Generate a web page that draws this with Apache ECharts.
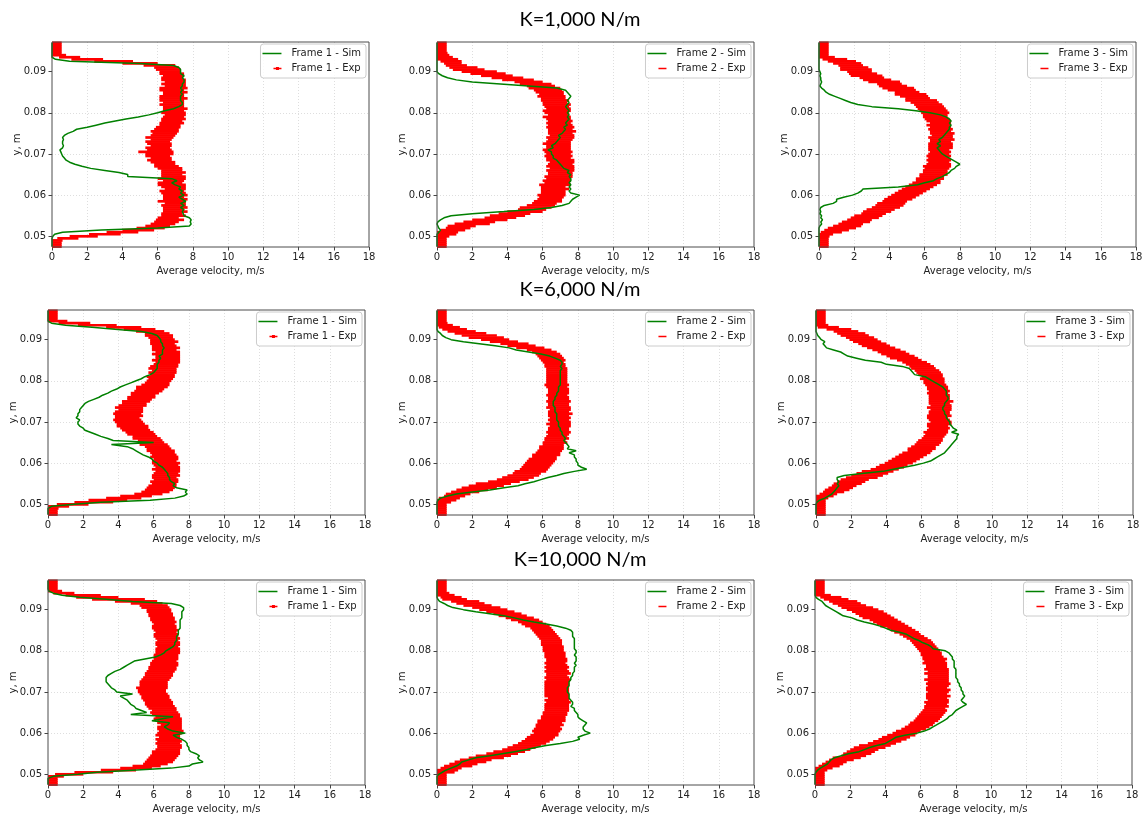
<!DOCTYPE html>
<html><head><meta charset="utf-8">
<script src="https://cdn.jsdelivr.net/npm/echarts@6/dist/echarts.min.js"></script>
<style>html,body{margin:0;padding:0;background:#fff}#chart{width:1146px;height:817px}</style>
</head><body><div id="chart"></div>
<script>
// ---------- data ----------
const panelTitles = ['K=1,000 N/m', 'K=6,000 N/m', 'K=10,000 N/m'];
const xTicks = [0, 2, 4, 6, 8, 10, 12, 14, 16, 18];
const yTicks = [0.05, 0.06, 0.07, 0.08, 0.09];
const yPos = [
0.0475,0.048,0.0485,0.049,0.0495,0.05,0.0505,0.051,0.0515,0.052,
0.0525,0.053,0.0535,0.054,0.0545,0.055,0.0555,0.056,0.0565,0.057,
0.0575,0.058,0.0585,0.059,0.0595,0.06,0.0605,0.061,0.0615,0.062,
0.0625,0.063,0.0635,0.064,0.0645,0.065,0.0655,0.066,0.0665,0.067,
0.0675,0.068,0.0685,0.069,0.0695,0.07,0.0705,0.071,0.0715,0.072,
0.0725,0.073,0.0735,0.074,0.0745,0.075,0.0755,0.076,0.0765,0.077,
0.0775,0.078,0.0785,0.079,0.0795,0.08,0.0805,0.081,0.0815,0.082,
0.0825,0.083,0.0835,0.084,0.0845,0.085,0.0855,0.086,0.0865,0.087,
0.0875,0.088,0.0885,0.089,0.0895,0.09,0.0905,0.091,0.0915,0.092,
0.0925,0.093,0.0935,0.094,0.0945,0.095,0.0955,0.096,0.0965,0.097];

// K=1,000 N/m
const simK1F1 = [
0,0,0,0,0,0.05,0.15,0.6,2.8,6.0,
7.8,7.9,7.85,7.9,7.8,7.5,7.45,7.4,7.5,7.3,
7.5,7.3,7.6,7.4,7.2,7.5,7.3,7.4,7.2,7.3,
7.0,6.8,7.1,6.8,4.3,4.3,3.8,3.0,2.2,1.7,
1.3,1.0,0.8,0.7,0.6,0.55,0.5,0.45,0.6,0.65,
0.6,0.6,0.65,0.6,0.7,0.9,1.2,1.4,2.0,2.5,
3.0,3.6,4.2,4.9,5.5,6.0,6.4,6.9,7.2,7.4,
7.4,7.3,7.3,7.3,7.4,7.3,7.4,7.3,7.4,7.4,
7.5,7.5,7.4,7.5,7.3,7.3,7.3,7.2,6.9,5.0,
1.0,0.2,0,0,0,0,0,0,0,0];
const expK1F1 = [
0.05,0.05,0.05,0.1,0.9,1.8,3.0,4.0,4.9,5.6,
6.0,6.3,6.5,6.7,6.6,6.9,6.8,7.0,6.9,7.0,
6.9,7.0,6.8,7.0,6.9,7.0,6.9,6.8,7.0,6.9,
6.8,6.7,6.9,6.8,6.9,6.8,6.9,6.8,6.7,6.5,
6.4,6.3,6.1,6.2,6.0,6.1,5.9,6.1,6.0,6.2,
6.1,6.0,6.2,6.1,6.3,6.4,6.4,6.5,6.6,6.7,
6.8,6.8,6.9,6.9,7.0,6.9,6.9,7.0,6.9,6.8,
6.9,6.8,6.9,6.8,6.9,7.0,6.8,6.9,7.0,6.9,
7.0,6.9,6.8,6.9,6.8,6.7,6.6,6.5,6.1,5.0,
3.5,2.0,1.0,0.4,0.05,0.05,0.05,0.05,0.05,0.05];
const errK1F1 = [
0.5,0.5,0.5,0.5,0.6,0.8,0.9,0.9,0.9,0.8,
0.7,0.7,0.7,0.8,0.6,0.7,0.6,0.7,0.6,0.7,
0.7,0.6,0.8,0.7,0.6,0.7,0.7,0.7,0.6,0.7,
0.8,0.7,0.6,0.8,0.7,0.6,0.7,0.6,0.7,0.7,
0.6,0.7,0.7,0.6,0.7,0.8,1.0,0.7,0.7,0.6,
0.7,0.7,0.6,0.8,0.7,0.7,0.8,0.7,0.7,0.6,
0.7,0.6,0.7,0.6,0.6,0.7,0.6,0.7,0.6,0.7,
0.6,0.7,0.8,0.7,0.6,0.7,0.7,0.8,0.6,0.7,
0.6,0.7,0.6,0.6,0.7,0.6,0.7,0.7,0.9,1.0,
1.1,0.9,0.6,0.4,0.5,0.5,0.5,0.5,0.5,0.5];

const simK1F2 = [
0,0,0,0,0,0,0,0.1,0.2,0.1,
0.05,0,0.05,0.2,0.4,0.8,2.0,3.8,5.5,6.5,
7.1,7.5,7.6,7.7,7.9,8.1,7.6,7.5,7.6,7.5,
7.6,7.5,7.6,7.6,7.5,7.6,7.4,7.5,7.2,7.1,
7.0,6.9,6.8,6.6,6.6,6.5,6.5,6.3,6.6,6.5,
6.7,6.8,6.9,7.0,6.9,7.1,7.2,7.3,7.2,7.4,
7.3,7.4,7.5,7.4,7.5,7.4,7.5,7.4,7.3,7.4,
7.5,7.4,7.5,7.6,7.5,7.4,7.3,6.8,5.2,3.6,
2.0,1.1,0.6,0.3,0.1,0,0,0,0,0,
0,0,0,0,0,0,0,0,0,0];
const expK1F2 = [
0.05,0.05,0.05,0.05,0.05,0.2,0.5,0.6,0.9,1.2,
1.4,2.0,2.4,3.0,3.6,4.0,4.4,5.0,5.4,5.6,
5.9,6.1,6.3,6.4,6.5,6.5,6.6,6.6,6.7,6.6,
6.7,6.8,6.8,6.9,6.9,7.0,7.0,7.0,7.1,7.0,
7.0,7.1,7.0,6.9,6.9,6.9,6.9,6.8,6.9,6.9,
6.8,6.9,7.0,7.0,7.1,7.0,7.1,7.0,7.0,7.0,
6.9,7.0,6.9,6.8,6.9,6.8,6.8,6.9,6.8,6.8,
6.7,6.7,6.6,6.5,6.5,6.4,6.3,6.1,5.9,5.6,
5.2,4.6,4.0,3.4,2.9,2.4,1.8,1.5,1.1,0.9,
0.8,0.6,0.4,0.3,0.2,0.1,0.05,0.05,0.05,0.05];
const errK1F2 = [
0.5,0.5,0.5,0.5,0.5,0.5,0.6,0.6,0.7,0.7,
0.8,1.0,0.9,1.0,0.9,1.0,0.9,1.0,0.8,0.9,
0.8,0.7,0.8,0.7,0.7,0.8,0.7,0.7,0.8,0.7,
0.9,0.7,0.8,0.7,0.8,0.7,0.7,0.8,0.7,0.8,
0.7,0.7,0.8,0.7,0.8,0.7,0.8,0.8,0.7,0.7,
0.8,0.7,0.7,0.8,0.7,0.7,0.8,0.7,0.8,0.7,
0.7,0.7,0.7,0.8,0.6,0.7,0.8,0.7,0.7,0.8,
0.7,0.8,0.7,0.8,0.7,0.8,0.8,0.9,0.8,0.9,
0.8,0.9,0.9,0.9,1.0,1.0,0.9,0.8,0.6,0.5,
0.6,0.6,0.5,0.4,0.4,0.45,0.5,0.5,0.5,0.5];

const simK1F3 = [
0,0,0,0,0,0,0,0,0,0,
0.05,0.15,0.1,0.2,0.1,0.15,0.05,0.1,0.05,0.1,
0.3,0.8,1.0,1.0,1.4,1.9,2.2,2.4,2.5,4.5,
5.6,6.0,6.5,6.7,7.0,7.2,7.4,7.5,7.7,7.8,
8.0,7.8,7.6,7.4,7.2,7.0,6.9,6.8,6.7,6.9,
6.7,6.9,6.8,7.0,7.1,7.2,7.3,7.4,7.4,7.5,
7.4,7.5,7.4,7.2,6.9,6.3,5.5,4.5,3.0,2.2,
1.8,1.5,1.2,0.9,0.6,0.4,0.3,0.15,0.05,0.1,
0.15,0.1,0.1,0.05,0.1,0.05,0,0,0,0,
0,0,0,0,0,0,0,0,0,0];
const expK1F3 = [
0.05,0.05,0.05,0.05,0.05,0.1,0.3,0.7,1.0,1.3,
1.6,1.8,2.1,2.3,2.6,2.8,3.1,3.3,3.5,3.8,
4.0,4.1,4.3,4.5,4.7,4.9,5.1,5.3,5.5,5.7,
5.9,6.1,6.2,6.3,6.4,6.5,6.6,6.6,6.7,6.7,
6.8,6.8,6.8,6.8,6.8,6.8,6.9,6.8,6.9,6.9,
6.9,6.9,7.0,6.9,7.0,7.0,6.9,6.9,6.9,6.8,
6.9,6.8,6.7,6.6,6.6,6.6,6.5,6.4,6.3,6.2,
6.0,5.8,5.6,5.4,5.2,5.0,4.7,4.5,4.2,4.0,
3.7,3.3,3.0,2.7,2.5,2.3,2.1,2.0,1.8,1.6,
1.3,0.9,0.4,0.05,0.05,0.05,0.05,0.05,0.05,0.05];
const errK1F3 = [
0.5,0.5,0.5,0.5,0.5,0.5,0.5,0.6,0.7,0.8,
0.8,0.7,0.8,0.7,0.8,0.8,0.7,0.8,0.8,0.8,
0.8,0.8,0.7,0.8,0.8,0.8,0.8,0.8,0.8,0.8,
0.8,0.8,0.7,0.8,0.7,0.8,0.7,0.7,0.7,0.8,
0.7,0.6,0.7,0.6,0.7,0.6,0.6,0.6,0.7,0.7,
0.7,0.6,0.7,0.7,0.6,0.7,0.6,0.7,0.6,0.7,
0.6,0.7,0.7,0.7,0.7,0.8,0.8,0.8,0.8,0.8,
0.8,0.9,0.7,0.8,0.9,0.7,0.8,0.9,0.8,0.7,
0.9,0.8,0.7,0.9,0.8,0.7,0.9,0.8,0.7,0.8,
0.8,0.7,0.5,0.5,0.5,0.5,0.5,0.5,0.5,0.5];

// K=6,000 N/m
const simK6F1 = [
0,0,0,0,0.2,1.5,3.0,5.8,7.2,7.7,
7.9,7.8,7.9,7.3,7.1,7.2,7.0,6.9,6.9,6.8,
6.8,6.7,6.6,6.5,6.3,6.2,6.0,5.9,5.7,5.4,
5.2,5.0,4.8,4.5,3.6,6.0,3.7,3.4,3.0,2.7,
2.4,2.1,2.0,1.8,1.7,1.7,1.8,1.6,1.7,1.7,
1.8,1.8,1.9,2.0,2.1,2.3,2.6,2.9,3.1,3.4,
3.6,3.9,4.1,4.4,4.7,5.0,5.3,5.5,5.8,6.0,
6.1,6.2,6.2,6.2,6.3,6.3,6.4,6.3,6.5,6.5,
6.5,6.6,6.5,6.5,6.4,6.4,6.3,6.2,5.9,5.3,
3.8,2.5,1.0,0.2,0,0,0,0,0,0];
const expK6F1 = [
0.05,0.05,0.05,0.1,0.6,1.4,2.6,3.4,4.3,5.0,
5.7,6.1,6.3,6.4,6.5,6.6,6.6,6.7,6.6,6.7,
6.7,6.8,6.7,6.8,6.7,6.7,6.6,6.7,6.6,6.6,
6.5,6.4,6.3,6.2,6.0,5.9,5.8,5.6,5.5,5.3,
5.2,5.0,4.9,4.8,4.7,4.6,4.5,4.5,4.6,4.5,
4.6,4.7,4.6,4.8,4.9,5.0,5.2,5.3,5.4,5.5,
5.7,5.8,5.9,6.1,6.2,6.3,6.4,6.4,6.5,6.5,
6.6,6.5,6.6,6.7,6.8,6.7,6.8,6.8,6.7,6.8,
6.6,6.7,6.6,6.5,6.6,6.5,6.4,6.3,6.2,5.8,
5.2,4.3,2.8,1.5,0.5,0.05,0.05,0.05,0.05,0.05];
const errK6F1 = [
0.5,0.5,0.5,0.5,0.6,0.9,1.1,1.1,1.0,0.9,
0.8,0.8,0.8,0.8,0.8,0.7,0.8,0.7,0.7,0.8,
0.7,0.7,0.8,0.7,0.7,0.8,0.7,0.7,0.8,0.7,
0.7,0.8,0.7,0.7,0.8,0.7,0.7,0.8,0.7,0.8,
0.8,0.8,0.8,0.9,0.8,0.8,0.8,0.7,0.8,0.8,
0.8,0.7,0.8,0.8,0.7,0.8,0.7,0.8,0.7,0.8,
0.8,0.8,0.9,0.8,0.7,0.7,0.7,0.8,0.7,0.8,
0.7,0.8,0.8,0.7,0.7,0.8,0.7,0.7,0.8,0.7,
0.7,0.8,0.7,0.7,0.8,0.7,0.7,0.8,0.7,0.8,
0.9,1.0,1.1,0.9,0.6,0.5,0.5,0.5,0.5,0.5];

const simK6F2 = [
0,0,0,0,0,0,0,0.05,0.2,0.6,
1.1,2.0,3.0,3.8,4.6,5.0,5.5,5.9,6.3,6.8,
7.2,7.8,8.5,8.2,8.0,8.0,7.9,7.9,7.8,7.8,
7.5,7.9,7.4,7.5,7.4,7.3,7.2,7.3,7.2,7.1,
7.1,7.0,7.0,6.9,6.9,6.9,6.8,6.8,6.8,6.8,
6.7,6.7,6.7,6.6,6.6,6.6,6.7,6.7,6.8,6.8,
6.9,6.9,6.9,7.0,7.0,7.0,7.0,7.0,7.0,7.0,
7.0,7.1,7.0,7.1,7.1,7.0,6.7,6.4,5.9,5.2,
4.5,4.1,3.3,2.4,1.5,0.8,0.5,0.3,0.2,0.05,
0,0,0,0,0,0,0,0,0,0];
const expK6F2 = [
0.05,0.05,0.05,0.05,0.05,0.05,0.3,0.5,0.7,1.0,
1.2,1.6,2.0,2.4,2.8,3.2,3.8,4.3,4.6,4.9,
5.1,5.3,5.5,5.6,5.7,5.8,5.9,6.0,6.1,6.2,
6.3,6.4,6.5,6.5,6.6,6.7,6.7,6.8,6.8,6.9,
6.9,6.9,6.9,7.0,6.9,7.0,6.9,7.0,6.9,7.0,
6.9,7.0,6.9,6.9,6.9,6.9,6.9,6.9,6.8,6.9,
6.9,6.9,6.8,6.8,6.8,6.8,6.8,6.8,6.8,6.8,
6.8,6.8,6.7,6.7,6.6,6.6,6.5,6.4,6.3,6.1,
5.8,5.3,4.8,4.4,3.8,3.3,2.8,2.4,1.9,1.4,
1.0,0.7,0.4,0.1,0.05,0.05,0.05,0.05,0.05,0.05];
const errK6F2 = [
0.5,0.5,0.5,0.5,0.5,0.5,0.5,0.6,0.6,0.6,
0.7,0.8,0.9,1.0,1.0,1.0,0.9,0.9,0.9,0.9,
0.8,0.9,0.8,0.8,0.8,0.8,0.8,0.8,0.7,0.8,
0.7,0.7,0.7,0.7,0.6,0.7,0.6,0.7,0.6,0.6,
0.7,0.6,0.6,0.6,0.7,0.6,0.6,0.6,0.6,0.7,
0.6,0.6,0.7,0.6,0.6,0.7,0.6,0.6,0.6,0.6,
0.6,0.6,0.6,0.7,0.6,0.6,0.6,0.6,0.6,0.6,
0.6,0.6,0.6,0.6,0.6,0.7,0.7,0.7,0.7,0.7,
0.7,0.8,0.8,0.8,0.8,0.8,1.0,1.0,0.9,0.8,
0.7,0.6,0.5,0.5,0.5,0.5,0.5,0.5,0.5,0.5];

const simK6F3 = [
0,0,0,0,0,0,0.05,0.2,0.5,0.7,
0.9,1.0,1.1,1.2,1.3,1.2,1.3,1.2,1.2,1.6,
2.6,3.8,4.4,5.0,5.6,6.1,6.5,6.7,6.9,7.1,
7.3,7.4,7.5,7.6,7.7,7.8,7.9,8.0,8.0,8.1,
7.7,8.0,7.8,7.7,7.6,7.6,7.5,7.4,7.4,7.3,
7.3,7.2,7.2,7.3,7.3,7.4,7.5,7.5,7.4,7.4,
7.4,7.3,7.2,7.0,6.8,6.6,6.4,6.2,5.6,5.5,
5.4,5.3,4.9,4.0,3.7,2.8,2.3,1.8,1.6,1.4,
1.0,0.6,0.5,0.4,0.5,0.3,0.2,0.1,0.05,0,
0,0,0,0,0,0,0,0,0,0];
const expK6F3 = [
0.05,0.05,0.05,0.05,0.05,0.05,0.05,0.05,0.2,0.5,
0.7,1.0,1.2,1.4,1.6,1.8,2.0,2.2,2.6,2.9,
3.2,3.5,3.9,4.2,4.4,4.7,4.9,5.1,5.3,5.5,
5.7,5.9,6.0,6.1,6.3,6.4,6.5,6.6,6.7,6.8,
6.8,6.9,7.0,6.9,7.0,7.1,7.0,6.9,7.0,7.0,
7.0,7.1,7.0,7.1,7.0,7.1,7.0,7.0,7.0,6.9,
7.0,6.9,6.9,6.8,6.7,6.7,6.6,6.6,6.5,6.4,
6.3,6.1,6.0,5.8,5.6,5.3,5.0,4.8,4.5,4.3,
4.0,3.7,3.4,3.2,2.9,2.7,2.5,2.2,2.0,1.7,
1.3,0.7,0.2,0.05,0.05,0.05,0.05,0.05,0.05,0.05];
const errK6F3 = [
0.5,0.5,0.5,0.5,0.5,0.5,0.5,0.5,0.5,0.5,
0.5,0.6,0.7,0.7,0.7,0.8,0.8,0.8,0.9,0.9,
0.9,0.9,0.8,0.8,0.8,0.8,0.8,0.8,0.8,0.8,
0.8,0.7,0.8,0.7,0.7,0.7,0.7,0.6,0.6,0.6,
0.7,0.6,0.6,0.6,0.7,0.6,0.6,0.6,0.7,0.6,
0.6,0.6,0.7,0.6,0.6,0.7,0.6,0.6,0.6,0.6,
0.6,0.6,0.6,0.6,0.6,0.6,0.7,0.6,0.7,0.7,
0.7,0.7,0.7,0.7,0.7,0.7,0.8,0.8,0.8,0.8,
0.8,0.8,0.8,0.8,0.8,0.8,0.8,0.8,0.8,0.7,
0.7,0.6,0.5,0.5,0.5,0.5,0.5,0.5,0.5,0.5];

// K=10,000 N/m
const simK10F1 = [
0,0,0,0,0.3,1.7,2.8,4.8,7.0,8.0,
8.2,8.8,8.6,8.5,8.6,8.4,8.1,8.0,8.0,7.9,
7.9,7.8,7.6,7.3,7.1,7.8,7.1,6.8,6.6,6.8,
6.9,5.9,6.5,7.1,4.7,5.6,5.3,5.0,4.9,4.7,
4.6,4.5,4.3,4.1,4.8,3.9,3.8,3.6,3.5,3.4,
3.3,3.3,3.3,3.4,3.6,3.8,4.1,4.3,4.5,4.7,
4.9,5.5,6.1,6.4,6.6,6.7,6.9,7.1,7.2,7.2,
7.3,7.3,7.3,7.4,7.4,7.4,7.5,7.5,7.5,7.5,
7.5,7.6,7.6,7.6,7.6,7.7,7.7,7.5,7.0,4.8,
3.3,1.8,0.8,0.3,0.05,0,0,0,0,0];
const expK10F1 = [
0.05,0.05,0.05,0.05,0.4,1.2,2.6,4.0,5.0,5.6,
6.1,6.3,6.4,6.5,6.6,6.7,6.7,6.8,6.9,6.9,
6.8,6.9,6.8,6.9,6.8,6.9,7.0,6.9,6.9,7.0,
6.9,6.9,6.8,6.8,6.7,6.6,6.6,6.5,6.4,6.3,
6.3,6.2,6.1,6.1,6.0,5.9,5.9,5.9,6.0,6.0,
6.0,6.1,6.2,6.3,6.3,6.4,6.5,6.5,6.6,6.6,
6.6,6.7,6.7,6.7,6.8,6.8,6.8,6.8,6.8,6.8,
6.8,6.8,6.7,6.7,6.7,6.7,6.6,6.6,6.6,6.6,
6.5,6.5,6.4,6.4,6.3,6.3,6.1,6.0,5.6,5.0,
4.0,2.8,2.0,0.9,0.3,0.05,0.05,0.05,0.05,0.05];
const errK10F1 = [
0.5,0.5,0.5,0.5,0.5,0.8,1.1,1.0,0.9,0.8,
0.7,0.8,0.8,0.8,0.8,0.8,0.8,0.7,0.7,0.7,
0.7,0.7,0.7,0.6,0.7,0.7,0.7,0.7,0.7,0.6,
0.7,0.7,0.8,0.7,0.8,0.8,0.7,0.8,0.8,0.8,
0.8,0.8,0.8,0.8,0.8,0.8,0.8,0.9,0.8,0.8,
0.8,0.8,0.8,0.8,0.8,0.8,0.8,0.8,0.8,0.8,
0.7,0.7,0.7,0.7,0.7,0.7,0.7,0.6,0.7,0.7,
0.6,0.7,0.7,0.7,0.6,0.7,0.7,0.7,0.6,0.7,
0.7,0.7,0.7,0.7,0.7,0.7,0.8,0.8,0.9,1.2,
1.5,1.2,1.0,0.6,0.5,0.5,0.5,0.5,0.5,0.5];

const simK10F2 = [
0,0,0,0,0,0.1,0.3,0.5,0.8,1.1,
1.3,1.4,1.8,2.2,3.0,3.7,4.4,5.1,5.6,6.2,
7.0,7.7,8.1,8.0,8.3,8.7,8.4,8.3,8.3,8.4,
8.5,8.3,8.1,8.0,8.0,7.9,7.8,7.8,7.6,7.7,
7.7,7.6,7.5,7.5,7.5,7.4,7.4,7.4,7.5,7.5,
7.5,7.6,7.6,7.7,7.7,7.8,7.8,7.8,7.9,7.8,
7.9,7.9,7.9,7.8,7.9,7.9,7.8,7.8,7.8,7.8,
7.8,7.8,7.7,7.7,7.7,7.6,7.3,6.8,6.2,5.5,
4.9,4.4,3.8,3.0,2.2,1.5,0.9,0.6,0.4,0.15,
0.05,0,0,0,0,0,0,0,0,0];
const expK10F2 = [
0.05,0.05,0.05,0.05,0.05,0.05,0.5,0.6,0.8,1.2,
1.5,1.9,2.2,2.8,3.2,3.7,4.1,4.5,4.8,5.1,
5.4,5.6,5.8,5.9,6.1,6.2,6.2,6.3,6.3,6.4,
6.4,6.5,6.6,6.6,6.7,6.7,6.8,6.8,6.8,6.8,
6.9,6.8,6.9,6.8,6.8,6.8,6.8,6.8,6.8,6.8,
6.8,6.9,6.8,6.8,6.9,6.8,6.8,6.8,6.8,6.7,
6.8,6.8,6.7,6.7,6.7,6.6,6.6,6.6,6.5,6.5,
6.5,6.4,6.3,6.2,6.1,6.0,5.9,5.7,5.5,5.3,
5.0,4.7,4.3,4.0,3.6,3.2,2.8,2.3,1.9,1.6,
1.0,0.8,0.5,0.2,0.05,0.05,0.05,0.05,0.05,0.05];
const errK10F2 = [
0.5,0.5,0.5,0.5,0.5,0.5,0.5,0.6,0.6,0.8,
0.8,0.9,0.9,1.0,1.0,0.9,0.9,0.8,0.8,0.8,
0.8,0.8,0.8,0.8,0.8,0.7,0.8,0.8,0.7,0.8,
0.7,0.8,0.7,0.7,0.7,0.7,0.7,0.7,0.7,0.7,
0.7,0.7,0.6,0.7,0.7,0.7,0.7,0.7,0.7,0.7,
0.7,0.7,0.7,0.6,0.7,0.7,0.6,0.7,0.6,0.6,
0.6,0.6,0.6,0.6,0.6,0.6,0.6,0.6,0.6,0.6,
0.6,0.6,0.6,0.6,0.6,0.6,0.6,0.7,0.7,0.7,
0.8,0.8,0.8,0.8,0.8,0.8,0.8,0.8,0.8,0.8,
0.7,0.6,0.5,0.5,0.5,0.5,0.5,0.5,0.5,0.5];

const simK10F3 = [
0,0,0,0,0,0,0.05,0.15,0.3,0.5,
0.7,0.8,0.9,1.1,1.5,1.9,2.5,2.8,3.1,3.5,
4.0,4.2,4.4,4.6,5.1,5.8,6.2,6.5,6.7,6.9,
7.1,7.3,7.5,7.6,7.8,7.9,8.0,8.2,8.4,8.6,
8.4,8.3,8.4,8.5,8.4,8.4,8.3,8.3,8.2,8.2,
8.1,8.1,8.0,8.0,8.0,8.0,8.0,7.9,7.9,7.9,
7.9,7.8,7.8,7.7,7.6,7.4,6.7,6.6,6.4,6.1,
5.9,5.6,5.4,5.2,4.8,4.3,4.0,3.7,3.3,2.8,
2.4,2.1,1.6,1.4,1.2,1.0,0.8,0.6,0.5,0.4,
0.2,0.05,0,0,0,0,0,0,0,0];
const expK10F3 = [
0.05,0.05,0.05,0.05,0.05,0.05,0.05,0.3,0.5,0.8,
1.0,1.2,1.5,1.8,2.2,2.4,2.6,2.8,3.1,3.4,
3.8,4.1,4.4,4.6,4.9,5.1,5.3,5.6,5.8,6.0,
6.1,6.3,6.4,6.5,6.6,6.7,6.8,6.8,6.9,6.9,
6.9,7.0,6.9,7.0,6.9,7.0,7.0,6.9,7.0,7.0,
7.0,6.9,7.0,7.0,6.9,7.0,6.9,6.9,6.9,6.8,
6.8,6.8,6.7,6.6,6.6,6.5,6.4,6.3,6.2,6.1,
6.0,5.8,5.6,5.4,5.2,5.0,4.8,4.5,4.3,4.1,
3.9,3.6,3.4,3.2,3.0,2.7,2.4,2.1,1.8,1.6,
1.2,0.9,0.4,0.05,0.05,0.05,0.05,0.05,0.05,0.05];
const errK10F3 = [
0.5,0.5,0.5,0.5,0.5,0.5,0.5,0.4,0.5,0.6,
0.6,0.6,0.7,0.8,0.7,0.8,0.8,0.8,0.9,0.9,
0.8,0.8,0.8,0.8,0.8,0.7,0.7,0.7,0.7,0.7,
0.7,0.7,0.7,0.7,0.7,0.7,0.7,0.6,0.7,0.6,
0.7,0.6,0.6,0.7,0.6,0.6,0.7,0.6,0.6,0.7,
0.6,0.7,0.6,0.6,0.7,0.6,0.7,0.6,0.6,0.7,
0.6,0.7,0.6,0.6,0.6,0.6,0.6,0.6,0.6,0.6,
0.6,0.6,0.6,0.6,0.7,0.7,0.7,0.8,0.8,0.8,
0.8,0.9,0.9,0.9,0.9,0.9,0.9,0.8,0.8,0.8,
0.7,0.6,0.5,0.5,0.5,0.5,0.5,0.5,0.5,0.5];

const panels = [
  {frame: 1, sim: simK1F1, exp: expK1F1, err: errK1F1},
  {frame: 2, sim: simK1F2, exp: expK1F2, err: errK1F2},
  {frame: 3, sim: simK1F3, exp: expK1F3, err: errK1F3},
  {frame: 1, sim: simK6F1, exp: expK6F1, err: errK6F1},
  {frame: 2, sim: simK6F2, exp: expK6F2, err: errK6F2},
  {frame: 3, sim: simK6F3, exp: expK6F3, err: errK6F3},
  {frame: 1, sim: simK10F1, exp: expK10F1, err: errK10F1},
  {frame: 2, sim: simK10F2, exp: expK10F2, err: errK10F2},
  {frame: 3, sim: simK10F3, exp: expK10F3, err: errK10F3}
];

// ---------- layout ----------
const W = 1146;
const GW = 317, GH = 205;
const gridPos = [[52,42],[437,42],[819,42],[48,310],[437,310],[816,310],[48,580],[437,580],[815,580]];
const titleY = [20, 290, 560];
const FONT = 'DejaVu Sans';
const SIM_COLOR = '#008000', EXP_COLOR = '#ff0000';
const ICON_SIM = 'path://M0,0h.01v.01h-.01z M0,4.75h19v1.5h-19z M24,11h.01v.01h-.01z';
const ICON_EXP1 = 'path://M0,0h.01v.01h-.01z M11,4.8h8v1.4h-8z M13.5,4h3v3h-3z M24,11h.01v.01h-.01z';
const ICON_EXP = 'path://M0,0h.01v.01h-.01z M11,4.8h8v1.4h-8z M24,11h.01v.01h-.01z';

const grids = [], xAxes = [], yAxes = [], series = [], legends = [];
panels.forEach((p, i) => {
  const [l, t] = gridPos[i];
  grids.push({left: l, top: t, width: GW, height: GH, show: true, borderColor: '#4d4d4d', borderWidth: 1, backgroundColor: 'transparent', z: 5});
  xAxes.push({
    type: 'value', gridIndex: i, min: xTicks[0], max: xTicks[xTicks.length - 1], interval: 2,
    name: 'Average velocity, m/s', nameLocation: 'middle', nameGap: 19, nameMoveOverlap: false,
    nameTextStyle: {fontFamily: FONT, fontSize: 10, color: '#222'},
    axisLine: {show: false},
    axisTick: {show: true, length: 3.5, lineStyle: {color: '#444'}},
    axisLabel: {fontFamily: FONT, fontSize: 10, color: '#222', margin: 5},
    splitLine: {show: true, showMinLine: false, showMaxLine: false, lineStyle: {color: '#d6d6d6', type: [1, 2], width: 0.8}}
  });
  yAxes.push({
    type: 'value', gridIndex: i, min: 0.0474, max: 0.0972, splitNumber: 5,
    name: 'y, m', nameLocation: 'middle', nameGap: 30, nameMoveOverlap: false,
    nameTextStyle: {fontFamily: FONT, fontSize: 10, color: '#222'},
    axisLine: {show: false},
    axisTick: {show: true, length: 3.5, lineStyle: {color: '#444'}, customValues: yTicks},
    axisLabel: {fontFamily: FONT, fontSize: 10, color: '#222', margin: 6, customValues: yTicks, formatter: v => v.toFixed(2)},
    splitLine: {show: true, showMinLine: false, showMaxLine: false, lineStyle: {color: '#d6d6d6', type: [1, 2], width: 0.8}}
  });
  series.push({
    type: 'custom', name: `Frame ${p.frame} - Exp`, xAxisIndex: i, yAxisIndex: i, z: 2,
    itemStyle: {color: EXP_COLOR},
    dimensions: ['v', 'y', 'e'], encode: {x: 0, y: 1},
    data: yPos.map((y, j) => [p.exp[j], y, p.err[j]]),
    renderItem: (params, api) => {
      const m = api.value(0), y = api.value(1), e = api.value(2);
      const a = api.coord([Math.max(0, m - e), y]);
      const b = api.coord([m + e, y]);
      return {type: 'line', shape: {x1: a[0], y1: a[1], x2: b[0], y2: b[1]}, style: {stroke: EXP_COLOR, lineWidth: 2.7}};
    }
  });
  series.push({
    type: 'line', name: `Frame ${p.frame} - Sim`, xAxisIndex: i, yAxisIndex: i, z: 3,
    symbol: 'none', color: SIM_COLOR, lineStyle: {color: SIM_COLOR, width: 1.5},
    data: yPos.map((y, j) => [p.sim[j], y])
  });
  legends.push({
    orient: 'vertical', right: W - (l + GW) + 3, top: t + 2,
    backgroundColor: 'rgba(255,255,255,0.85)', borderColor: '#cccccc', borderWidth: 1, borderRadius: 3,
    padding: [4, 5, 4, 2], itemGap: 4, itemWidth: 24, itemHeight: 11,
    selectedMode: false,
    textStyle: {fontFamily: FONT, fontSize: 10, color: '#222'},
    data: [
      {name: `Frame ${p.frame} - Sim`, icon: ICON_SIM, itemStyle: {color: SIM_COLOR, borderWidth: 0}},
      {name: `Frame ${p.frame} - Exp`, icon: p.frame === 1 ? ICON_EXP1 : ICON_EXP, itemStyle: {color: EXP_COLOR, borderWidth: 0}}
    ]
  });
});

const chart = echarts.init(document.getElementById('chart'), null, {renderer: 'canvas'});
chart.setOption({
  backgroundColor: '#fff',
  animation: false,
  grid: grids, xAxis: xAxes, yAxis: yAxes, series: series, legend: legends,
  graphic: panelTitles.map((txt, k) => ({
    type: 'text', x: 580, y: titleY[k],
    style: {text: txt, fontFamily: 'Lato', fontSize: 20, fill: '#000', align: 'center', verticalAlign: 'middle'}
  }))
});
</script></body></html>
